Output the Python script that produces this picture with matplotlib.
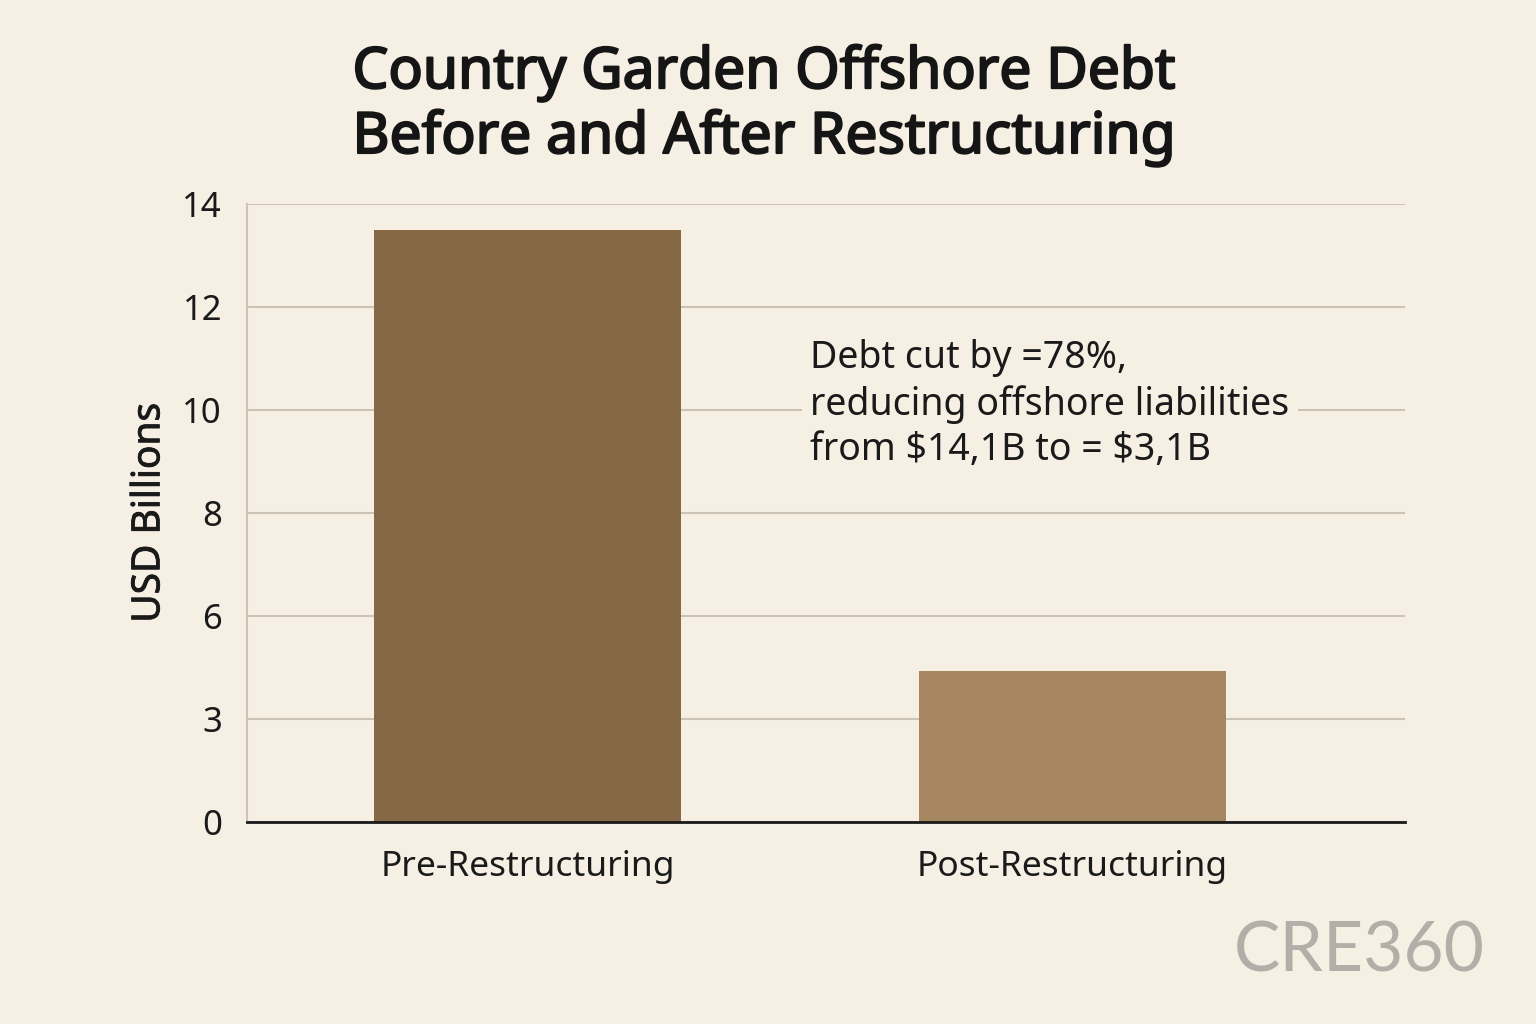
import matplotlib.pyplot as plt
import matplotlib.patheffects as pe
import numpy as np

# values; the y axis in the source is not linear
categories = ["Pre-Restructuring", "Post-Restructuring"]
debt_usd_bn = [13.5, 4.4]
bar_colors = ["#866746", "#a68761"]
tick_values = [0, 3, 6, 8, 10, 12, 14]
tick_labels = ["0", "3", "6", "8", "10", "12", "14"]
note = "Debt cut by =78%,\nreducing offshore liabilities\nfrom \\$14,1B to = \\$3,1B"

BG = "#f6efe3"
GRID = "#cbc4b5"
INK = "#1a1a1a"
FONT = ["Noto Sans", "DejaVu Sans"]

tick_pos = np.arange(len(tick_values), dtype=float)


def forward(v):
    return np.interp(v, tick_values, tick_pos)


def inverse(p):
    return np.interp(p, tick_pos, tick_values)


plt.rcParams["font.family"] = FONT

fig = plt.figure(figsize=(15.36, 10.24), dpi=100, facecolor=BG)
ax = fig.add_axes([247 / 1536, 1 - 822 / 1024, (1405 - 247) / 1536, (822 - 204) / 1024])
ax.set_facecolor(BG)
ax.set_yscale("function", functions=(forward, inverse))

x = np.arange(len(categories))
ax.bar(x, debt_usd_bn, width=0.564, color=bar_colors, zorder=3)

ax.set_ylim(0, 14)
ax.set_xlim(-0.515, 1.611)
ax.set_yticks(tick_values)
ax.set_yticklabels(tick_labels)
ax.set_xticks(x)
ax.set_xticklabels(categories)
ax.yaxis.grid(True, color=GRID, linewidth=1.5, zorder=0)
ax.tick_params(axis="y", length=0, pad=18, labelsize=25, colors=INK)
ax.tick_params(axis="x", length=0, pad=20, labelsize=25.5, colors=INK)

for side in ["top", "right"]:
    ax.spines[side].set_visible(False)
ax.spines["left"].set_color(GRID)
ax.spines["left"].set_linewidth(1.5)
ax.spines["bottom"].set_color(INK)
ax.spines["bottom"].set_linewidth(2)
ax.spines["bottom"].set_zorder(4)

ylab = ax.set_ylabel("USD Billions", fontsize=28, labelpad=10, color=INK)
ylab.set_path_effects([pe.withStroke(linewidth=0.6, foreground=INK)])

fig.text(810 / 1536, 1 - 404 / 1024, note, ha="left", va="center", fontsize=27,
         linespacing=1.25, color=INK,
         bbox=dict(facecolor=BG, edgecolor="none", pad=6))

title = fig.text(764 / 1536, 1 - 106 / 1024,
                 "Country Garden Offshore Debt\nBefore and After Restructuring",
                 ha="center", va="center", fontsize=41, linespacing=1.18,
                 color="#151515")
title.set_path_effects([pe.withStroke(linewidth=1.5, foreground="#151515")])

fig.text(1485 / 1536, 1 - 952 / 1024, "CRE360", ha="right", va="center", fontsize=50,
         color="#b2afa8", family=["Lato", "DejaVu Sans"])

fig.savefig("out.png", dpi=100, facecolor=BG)
